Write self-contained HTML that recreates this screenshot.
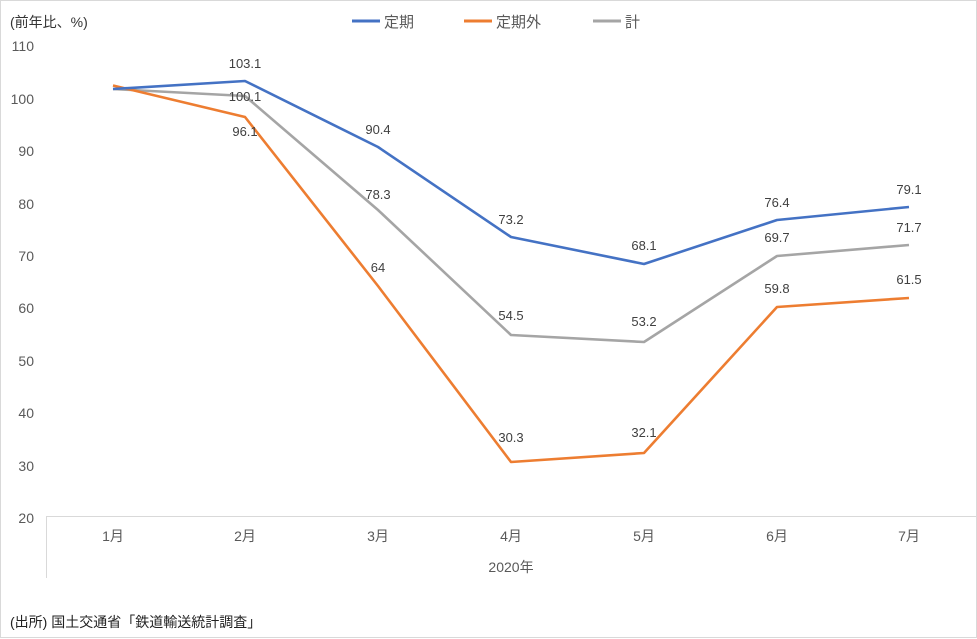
<!DOCTYPE html>
<html><head><meta charset="utf-8"><style>
html,body{margin:0;padding:0;background:#fff;}
svg{display:block;font-family:"Liberation Sans","Noto Sans CJK JP",sans-serif;}
</style></head><body>
<svg width="977" height="639" viewBox="0 0 977 639" xmlns="http://www.w3.org/2000/svg">
<rect x="0.5" y="0.5" width="976" height="637" fill="#fff" stroke="#d9d9d9"/>
<g font-size="14" fill="#333">
<text x="10" y="27">(前年比、%)</text>
<g text-anchor="end" fill="#595959" font-size="14">
<text x="34" y="51">110</text><text x="34" y="104">100</text><text x="34" y="156">90</text>
<text x="34" y="209">80</text><text x="34" y="261">70</text><text x="34" y="313">60</text>
<text x="34" y="366">50</text><text x="34" y="418">40</text><text x="34" y="471">30</text>
<text x="34" y="523">20</text>
</g>
</g>
<line x1="46" y1="516.5" x2="977" y2="516.5" stroke="#d9d9d9"/>
<line x1="46.5" y1="516" x2="46.5" y2="578" stroke="#d9d9d9"/>
<g font-size="14" fill="#595959" text-anchor="middle">
<text x="113" y="541">1月</text><text x="245" y="541">2月</text><text x="378" y="541">3月</text>
<text x="511" y="541">4月</text><text x="644" y="541">5月</text><text x="777" y="541">6月</text>
<text x="909" y="541">7月</text>
<text x="511" y="572">2020年</text>
</g>
<text x="10" y="627" font-size="14" fill="#222">(出所) 国土交通省「鉄道輸送統計調査」</text>
<!-- legend -->
<g font-size="15" fill="#595959">
<line x1="352" y1="21" x2="380" y2="21" stroke="#4472c4" stroke-width="3"/><text x="384" y="27">定期</text>
<line x1="464" y1="21" x2="492" y2="21" stroke="#ed7d31" stroke-width="3"/><text x="496" y="27">定期外</text>
<line x1="593" y1="21" x2="621" y2="21" stroke="#a5a5a5" stroke-width="3"/><text x="625" y="27">計</text>
</g>
<g fill="none" stroke-width="2.6" stroke-linejoin="round">
<polyline stroke="#a5a5a5" points="113,89 245,96 378,210 511,335 644,342 777,256 909,245"/>
<polyline stroke="#ed7d31" points="113,85.5 245,117 378,286 511,462 644,453 777,307 909,298"/>
<polyline stroke="#4472c4" points="113,89 245,81 378,147 511,237 644,264 777,220 909,207"/>
</g>
<g font-size="13" fill="#404040" text-anchor="middle">
<text x="245" y="68">103.1</text><text x="245" y="101">100.1</text><text x="245" y="136">96.1</text>
<text x="378" y="134">90.4</text><text x="378" y="199">78.3</text><text x="378" y="272">64</text>
<text x="511" y="224">73.2</text><text x="511" y="320">54.5</text><text x="511" y="442">30.3</text>
<text x="644" y="250">68.1</text><text x="644" y="326">53.2</text><text x="644" y="437">32.1</text>
<text x="777" y="207">76.4</text><text x="777" y="242">69.7</text><text x="777" y="293">59.8</text>
<text x="909" y="194">79.1</text><text x="909" y="232">71.7</text><text x="909" y="284">61.5</text>
</g>
</svg>
</body></html>
